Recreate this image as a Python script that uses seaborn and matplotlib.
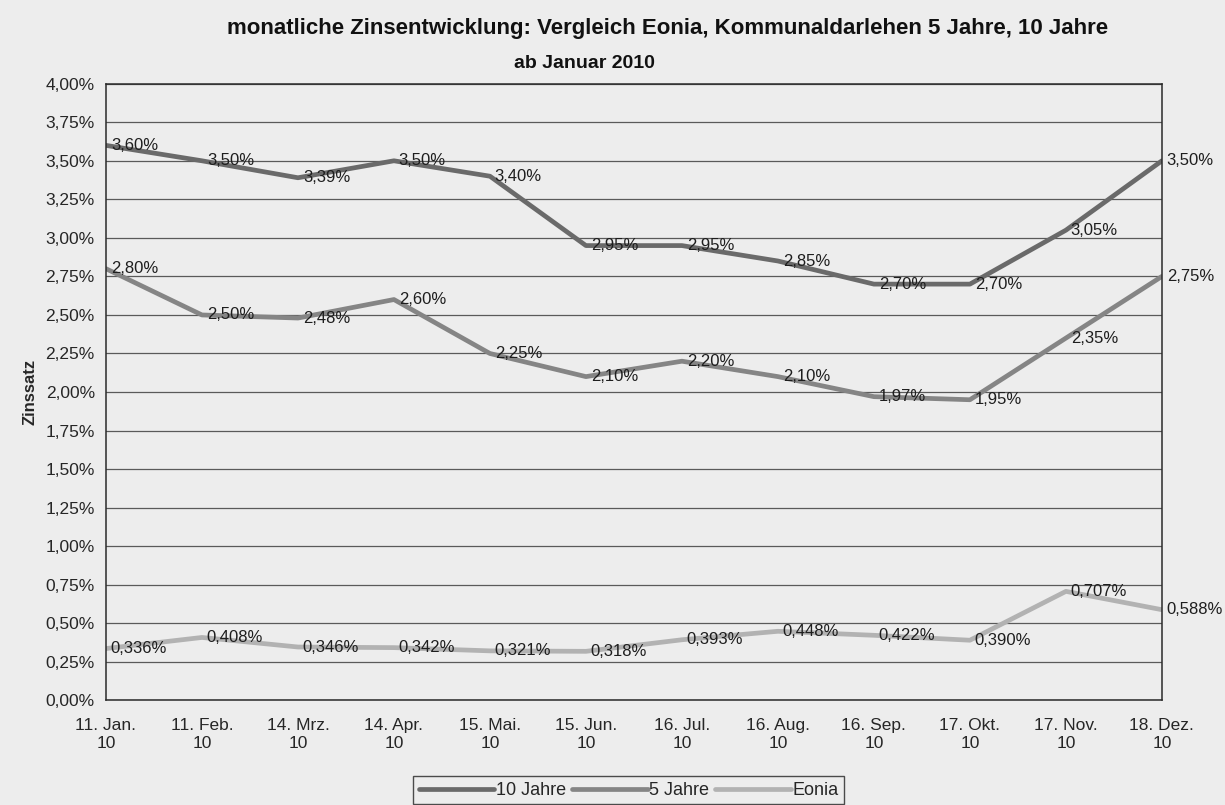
import numpy as np
import pandas as pd
import seaborn as sns
import matplotlib.pyplot as plt
from matplotlib.ticker import FuncFormatter

# ------------------------
# data
# ------------------------
dates = ['11. Jan.\n10', '11. Feb.\n10', '14. Mrz.\n10', '14. Apr.\n10',
         '15. Mai.\n10', '15. Jun.\n10', '16. Jul.\n10', '16. Aug.\n10',
         '16. Sep.\n10', '17. Okt.\n10', '17. Nov.\n10', '18. Dez.\n10']
zins_10 = [3.60, 3.50, 3.39, 3.50, 3.40, 2.95, 2.95, 2.85, 2.70, 2.70, 3.05, 3.50]
zins_5 = [2.80, 2.50, 2.48, 2.60, 2.25, 2.10, 2.20, 2.10, 1.97, 1.95, 2.35, 2.75]
eonia = [0.336, 0.408, 0.346, 0.342, 0.321, 0.318, 0.393, 0.448, 0.422, 0.390, 0.707, 0.588]

series = {'10 Jahre': zins_10, '5 Jahre': zins_5, 'Eonia': eonia}
decimals = {'10 Jahre': 2, '5 Jahre': 2, 'Eonia': 3}
colors = {'10 Jahre': '#6a6a6a', '5 Jahre': '#858585', 'Eonia': '#b2b2b2'}

rows = []
for name, vals in series.items():
    for i, v in enumerate(vals):
        rows.append({'pos': i, 'Zinssatz': v, 'Reihe': name})
df = pd.DataFrame(rows)

# ------------------------
# plot
# ------------------------
sns.set_style('white')
plt.rcParams['font.family'] = ['Liberation Sans', 'DejaVu Sans']
bg = '#ededed'

fig = plt.figure(figsize=(12.25, 8.05), dpi=100, facecolor=bg)
ax = fig.add_axes([0.0865, 0.130, 0.862, 0.766])
ax.set_facecolor(bg)

sns.lineplot(data=df, x='pos', y='Zinssatz', hue='Reihe', palette=colors,
             linewidth=3.4, ax=ax, legend=True)

# data labels to the right of each point
for name, vals in series.items():
    d = decimals[name]
    for i, v in enumerate(vals):
        txt = f'{v:.{d}f}%'.replace('.', ',')
        ax.annotate(txt, (i, v), xytext=(3.5, 0), textcoords='offset points',
                    ha='left', va='center', fontsize=12, color='#1e1e1e',
                    annotation_clip=False)

ax.set_xlim(0, 11.0)
ax.set_ylim(0, 4.0)
ax.set_yticks(np.arange(0, 4.01, 0.25))
ax.yaxis.set_major_formatter(FuncFormatter(lambda y, _: f'{y:.2f}%'.replace('.', ',')))
ax.set_xticks(range(len(dates)))
ax.set_xticklabels(dates, fontsize=12.5, linespacing=1.25)
ax.tick_params(axis='y', labelsize=12.5, length=4, color='#333333', pad=4)
ax.tick_params(axis='x', length=4, color='#333333', pad=9)
ax.grid(axis='y', color='#5a5a5a', linewidth=0.9)
ax.grid(axis='x', visible=False)
for s in ax.spines.values():
    s.set_color('#2a2a2a')
    s.set_linewidth(1.1)

ax.set_xlabel('')
ax.set_ylabel('Zinssatz', fontsize=12, fontweight='bold', labelpad=6)

fig.text(0.545, 0.965, 'monatliche Zinsentwicklung: Vergleich Eonia, Kommunaldarlehen 5 Jahre, 10 Jahre',
         ha='center', va='center', fontsize=16, fontweight='bold', color='#111111')
fig.text(0.477, 0.921, 'ab Januar 2010', ha='center', va='center', fontsize=14,
         fontweight='bold', color='#111111')

leg = ax.legend(loc='center', bbox_to_anchor=(0.495, -0.146), ncol=3, frameon=True,
                fontsize=13, handlelength=4.2, handletextpad=0.1, columnspacing=0.3,
                borderpad=0.3, fancybox=False, title=None)
leg.get_frame().set_edgecolor('#222222')
leg.get_frame().set_facecolor(bg)
leg.get_frame().set_linewidth(1.0)

fig.savefig('out.png', dpi=100, facecolor=fig.get_facecolor())
